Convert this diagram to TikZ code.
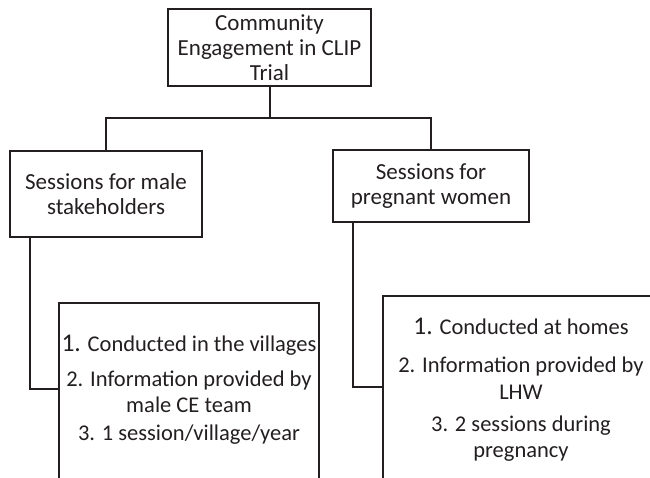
\documentclass[tikz,border=0pt]{standalone}
\usepackage{fontspec}
\setmainfont{Carlito}

\begin{document}
\begin{tikzpicture}[x=1pt, y=-1pt]
  \definecolor{boxline}{HTML}{231F20}
  \tikzstyle{box}=[draw=boxline, line width=2pt, align=center, inner sep=0pt, text=boxline, font=\fontsize{23}{25}\selectfont]
  \tikzstyle{listbox}=[box, anchor=north west, inner xsep=0pt, text depth=150pt, font=\fontsize{22.5}{25}\selectfont]
  \tikzstyle{link}=[draw=boxline, line width=2pt]

  \useasboundingbox (0,0) rectangle (650,477);
  \clip (0,0) rectangle (650,477);

  \node[box, minimum width=203pt, minimum height=77pt] (trial) at (269.5,47.5) {Community\\Engagement in CLIP\\Trial};
  \node[box, minimum width=192pt, minimum height=86pt] (male) at (106,194) {Sessions for male\\stakeholders};
  \node[box, minimum width=196pt, minimum height=72pt] (women) at (431,186) {Sessions for\\pregnant women};

  \node[listbox, minimum width=260pt, inner ysep=32pt] (list1) at (58,302)
    {{\fontsize{25.5}{25}\selectfont 1.} Conducted in the villages\\[10pt]
     2. Information provided by\\[1pt]male CE team\\[3pt]
     3. 1 session/village/year};
  \node[listbox, minimum width=276pt, inner ysep=22pt] (list2) at (382,295)
    {{\fontsize{25.5}{25}\selectfont 1.} Conducted at homes\\[13pt]
     2. Information provided by\\[2pt]LHW\\[7pt]
     3. 2 sessions during\\[1pt]pregnancy};

  % tree connectors
  \coordinate (split) at (269.5,118);
  \draw[link] (trial.south) -- (split);
  \draw[link] (male.north) |- (split) -| (women.north);
  \draw[link] ([xshift=-76pt]male.south) |- ([yshift=-87pt]list1.north west);
  \draw[link] ([xshift=-78pt]women.south) |- ([yshift=-92pt]list2.north west);

\end{tikzpicture}
\end{document}
